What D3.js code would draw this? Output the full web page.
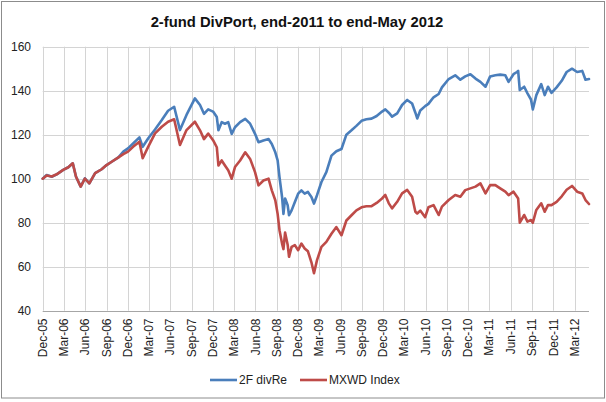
<!DOCTYPE html>
<html>
<head>
<meta charset="utf-8">
<script src="https://cdn.jsdelivr.net/npm/d3@7"></script>
<style>
  body { margin: 0; background: #fff; }
  svg { display: block; font-family: "Liberation Sans", Arial, sans-serif; }
</style>
</head>
<body>
<div id="chart"></div>
<script>
// Data (index, end-2005 = 100)
const dates = [
  "2005-12-30","2006-01-16","2006-02-07","2006-02-28","2006-03-28","2006-04-19","2006-05-08","2006-05-22",
  "2006-06-11","2006-06-29","2006-07-18","2006-08-12","2006-09-09","2006-09-30","2006-10-22","2006-11-20",
  "2006-12-11","2006-12-31","2007-01-23","2007-02-18","2007-03-04","2007-03-28","2007-04-26","2007-05-25",
  "2007-06-21","2007-07-17","2007-08-11","2007-09-08","2007-10-14","2007-11-05","2007-11-22","2007-12-10",
  "2007-12-31","2008-01-16","2008-01-23","2008-02-06","2008-02-20","2008-03-05","2008-03-20","2008-04-03",
  "2008-04-25","2008-05-17","2008-06-07","2008-06-28","2008-07-13","2008-08-03","2008-08-25","2008-09-08",
  "2008-09-23","2008-10-03","2008-10-11","2008-10-22","2008-10-28","2008-11-04","2008-11-15","2008-11-21",
  "2008-12-02","2008-12-16","2008-12-30","2009-01-13","2009-01-27","2009-02-10","2009-02-25","2009-03-08",
  "2009-03-21","2009-04-09","2009-04-30","2009-05-22","2009-06-12","2009-07-04","2009-07-25","2009-08-16",
  "2009-09-06","2009-09-28","2009-10-19","2009-11-10","2009-12-02","2009-12-25","2010-01-08","2010-01-23",
  "2010-02-06","2010-02-28","2010-03-21","2010-04-12","2010-05-03","2010-05-17","2010-05-25","2010-06-07",
  "2010-06-28","2010-07-12","2010-08-03","2010-08-25","2010-09-08","2010-10-07","2010-11-04","2010-11-26",
  "2010-12-17","2011-01-08","2011-01-30","2011-02-20","2011-03-14","2011-04-03","2011-04-25","2011-05-16",
  "2011-06-07","2011-06-21","2011-07-12","2011-07-27","2011-08-01","2011-08-08","2011-08-27","2011-09-10",
  "2011-09-25","2011-10-03","2011-10-18","2011-11-08","2011-11-23","2011-12-07","2011-12-22","2012-01-13",
  "2012-02-04","2012-02-25","2012-03-19","2012-04-10","2012-05-02","2012-05-16","2012-05-31"
];

const divRe = [
  100, 101.7, 100.9, 102, 104, 105.2, 107, 100.9,
  96.4, 100.2, 97.9, 102.5, 104.3, 106.2, 107.7, 109.7,
  112.3, 113.8, 116.1, 118.8, 114.5, 118.4, 122.4, 126.7,
  130.9, 132.7, 122.1, 129, 136.5, 133.5, 129.5, 131.5,
  130.5, 128, 122, 125.7, 125, 125.7, 120.4, 123.4,
  125.7, 127.2, 125, 120.4, 116.6, 117.4, 118, 115.8,
  112, 108.3, 100.7, 91.7, 84, 91, 88, 83.4,
  85.6, 89.4, 93.2, 94.7, 93.2, 94, 91.7, 88.7,
  92.5, 98.5, 103, 110.5, 112.5, 113.5, 120, 122,
  124, 126.3, 127, 127.3, 128.5, 130.5, 131.5, 130,
  128.2, 129.7, 133.5, 135.8, 134.2, 130, 127.4, 131,
  133, 134, 137, 138.5, 141.5, 145.3, 147, 145,
  146.5, 147.5, 145.5, 144, 141.8, 146.5, 147, 147.3,
  147, 144, 147.5, 148.5, 149, 140.3, 141.8, 138.8,
  136, 131.5, 138, 143, 138, 141.8, 139, 141.5,
  144.5, 148.5, 150, 148.5, 149, 145, 145.3
];

const mxwd = [
  100, 101.5, 101, 102, 104, 105.2, 107, 100.9,
  96.4, 100, 97.9, 102.5, 104.3, 106.2, 107.7, 109.7,
  111.2, 112.3, 114.6, 116.8, 109.3, 114.6, 120.6, 123.6,
  125.9, 127, 115.3, 122.1, 125.9, 122, 118, 120.5,
  117.5, 114.3, 106, 108.3, 106, 103.8, 100, 105.3,
  108.3, 112, 109, 103, 97, 99.2, 100, 94.7,
  90.2, 84, 76.6, 70.5, 68, 75.5, 70, 64.5,
  69, 69.8, 67.5, 70.5, 68.3, 67, 62, 57,
  63, 69, 71.3, 75, 78, 74.3, 81, 83.4,
  85.6, 87, 87.5, 87.5, 89, 91, 92.6, 88.8,
  86.5, 89.5, 93.3, 94.9, 91.8, 85, 84.2, 85.5,
  82.5, 87, 88, 83.5, 87.3, 90.3, 92.6, 91.8,
  94.8, 95.6, 96.4, 97.9, 93.3, 97.1, 97.1, 95.6,
  94.1, 92.5, 94.1, 91.8, 91, 80, 83.5, 80.5,
  81.2, 80, 85.8, 88.8, 85, 88, 88, 89.5,
  92, 95, 96.7, 94.1, 93.3, 90.3, 88.5
];

const tickDates = [
  "2005-12-30","2006-03-30","2006-06-30","2006-09-30","2006-12-30","2007-03-30","2007-06-30",
  "2007-09-30","2007-12-30","2008-03-30","2008-06-30","2008-09-30","2008-12-30","2009-03-30",
  "2009-06-30","2009-09-30","2009-12-30","2010-03-30","2010-06-30","2010-09-30","2010-12-30",
  "2011-03-30","2011-06-30","2011-09-30","2011-12-30","2012-03-30"
];
const yTicks = [40, 60, 80, 100, 120, 140, 160];

const seriesNames = ["2F divRe", "MXWD Index"];
const seriesColors = ["#4a7ebb", "#be4b48"];
const titleText = "2-fund DivPort, end-2011 to end-May 2012";

const W = 606, H = 402;
const parse = d3.timeParse("%Y-%m-%d");
const fmt = d3.timeFormat("%b-%y");

const svg = d3.select('#chart').append('svg')
  .attr('width', W)
  .attr('height', H);

svg.append('rect')
  .attr('x', 0).attr('y', 0).attr('width', W).attr('height', H)
  .attr('fill', '#fff');

// chart area border
svg.append('rect')
  .attr('x', 1.5).attr('y', 1.5)
  .attr('width', 603).attr('height', 396.5)
  .attr('fill', 'none')
  .attr('stroke', '#8c8c8c')
  .attr('stroke-width', 1);

const x = d3.scaleTime()
  .domain([parse(dates[0]), parse(dates[dates.length - 1])])
  .range([42.7, 589]);

const y = d3.scaleLinear()
  .domain([40, 160])
  .range([310.7, 46.7]);

// gridlines
const grid = svg.append('g');
grid.selectAll('line.h').data(yTicks.filter(v => v > 40)).enter().append('line')
  .attr('class', 'h')
  .attr('x1', x.range()[0]).attr('x2', x.range()[1])
  .attr('y1', d => Math.round(y(d)) + 0.5).attr('y2', d => Math.round(y(d)) + 0.5)
  .attr('stroke', '#d4d4d4');
grid.selectAll('line.v').data(tickDates).enter().append('line')
  .attr('class', 'v')
  .attr('x1', d => Math.round(x(parse(d))) + 0.5).attr('x2', d => Math.round(x(parse(d))) + 0.5)
  .attr('y1', y(160)).attr('y2', y(40))
  .attr('stroke', '#d4d4d4');

// x axis line
svg.append('line')
  .attr('x1', x.range()[0]).attr('x2', x.range()[1])
  .attr('y1', Math.round(y(40)) + 0.5).attr('y2', Math.round(y(40)) + 0.5)
  .attr('stroke', '#a6a6a6');

// y labels
svg.selectAll('text.ylab').data(yTicks).enter().append('text')
  .attr('class', 'ylab')
  .attr('x', 31)
  .attr('y', d => y(d))
  .attr('dy', '0.35em')
  .attr('text-anchor', 'end')
  .attr('font-size', 12)
  .attr('fill', '#222')
  .text(d => d);

// x labels (rotated)
svg.selectAll('text.xlab').data(tickDates).enter().append('text')
  .attr('class', 'xlab')
  .attr('transform', d => `translate(${x(parse(d))},318.5) rotate(-90)`)
  .attr('dy', '0.35em')
  .attr('text-anchor', 'end')
  .attr('font-size', 12)
  .attr('fill', '#222')
  .text(d => fmt(parse(d)));

// lines
const line = d3.line()
  .x((d, i) => x(parse(dates[i])))
  .y(d => y(d));

[divRe, mxwd].forEach((vals, i) => {
  svg.append('path')
    .datum(vals)
    .attr('d', line)
    .attr('fill', 'none')
    .attr('stroke', seriesColors[i])
    .attr('stroke-width', 2.6)
    .attr('stroke-linejoin', 'round')
    .attr('stroke-linecap', 'round');
});

// title
svg.append('text')
  .attr('x', 297)
  .attr('y', 27.3)
  .attr('text-anchor', 'middle')
  .attr('font-size', 14.8)
  .attr('font-weight', 'bold')
  .attr('fill', '#111')
  .text(titleText);

// legend
const legendX = [210, 300];
const legend = svg.selectAll('g.leg').data(seriesNames).enter().append('g')
  .attr('class', 'leg')
  .attr('transform', (d, i) => `translate(${legendX[i]},380)`);
legend.append('line')
  .attr('x1', 0).attr('x2', 27)
  .attr('y1', 0).attr('y2', 0)
  .attr('stroke', (d, i) => seriesColors[i])
  .attr('stroke-width', 2.6);
legend.append('text')
  .attr('x', 29)
  .attr('y', 0)
  .attr('dy', '0.35em')
  .attr('font-size', 12)
  .attr('fill', '#222')
  .text(d => d);
</script>
</body>
</html>
